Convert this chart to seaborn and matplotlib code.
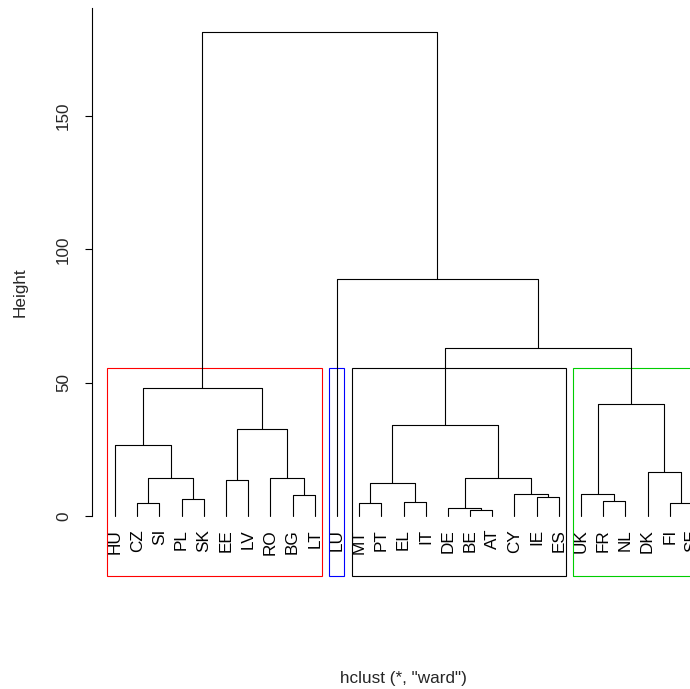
import matplotlib
matplotlib.use("Agg")
import matplotlib.pyplot as plt
from matplotlib.patches import Rectangle
import seaborn as sns
import pandas as pd

# leaf order as drawn
leaves = ["HU", "CZ", "SI", "PL", "SK", "EE", "LV", "RO", "BG", "LT", "LU",
          "MT", "PT", "EL", "IT", "DE", "BE", "AT", "CY", "IE", "ES",
          "UK", "FR", "NL", "DK", "FI", "SE"]

# merges (ward), in order of increasing height
merge_names = ["cz_si", "pl_sk", "czsk", "hu", "ee_lv", "bg_lt", "ro", "balt", "east",
               "mt_pt", "el_it", "south", "be_at", "de", "ie_es", "cy", "core", "mid",
               "fr_nl", "uk", "fi_se", "dk", "north", "west", "lu", "root"]
merge_left = ["CZ", "PL", "cz_si", "HU", "EE", "BG", "RO", "ee_lv", "hu",
              "MT", "EL", "mt_pt", "BE", "DE", "IE", "CY", "de", "south",
              "FR", "UK", "FI", "DK", "uk", "mid", "LU", "east"]
merge_right = ["SI", "SK", "pl_sk", "czsk", "LV", "LT", "bg_lt", "ro", "balt",
               "PT", "IT", "el_it", "AT", "be_at", "ES", "ie_es", "cy", "core",
               "NL", "fr_nl", "SE", "fi_se", "dk", "north", "west", "lu"]
merge_heights = [4.9, 6.4, 14.6, 26.6, 13.5, 8.2, 14.6, 32.6, 48.3,
                 5.1, 5.4, 12.7, 2.4, 3.3, 7.3, 8.5, 14.5, 34.3,
                 5.8, 8.5, 5.1, 16.6, 42.0, 63.0, 89.1, 181.6]

# rect.hclust(k = 4)
k = 4
cluster_roots = ["east", "LU", "mid", "north"]
cluster_colors = ["#FF0000", "#0000FF", "#000000", "#00CD00"]

y_ticks = [0, 50, 100, 150]

# build dendrogram segments
pos = {lab: i + 1 for i, lab in enumerate(leaves)}
hgt = {lab: 0.0 for lab in leaves}
members = {lab: [lab] for lab in leaves}
rows = []
for name, l, r, h in zip(merge_names, merge_left, merge_right, merge_heights):
    pts = [(pos[l], hgt[l]), (pos[l], h), (pos[r], h), (pos[r], hgt[r])]
    for order, (x, y) in enumerate(pts):
        rows.append({"seg": name, "order": order, "x": x, "y": y})
    pos[name] = (pos[l] + pos[r]) / 2
    hgt[name] = h
    members[name] = members[l] + members[r]
seg_df = pd.DataFrame(rows)

sns.set_style("white")
plt.rcParams["font.family"] = ["Liberation Sans", "DejaVu Sans"]
fs = 12.3

fig = plt.figure(figsize=(6.9, 6.89), dpi=100)
ax = fig.add_axes([103.5 / 690, 113 / 689, 600 / 690, 568 / 689])

sns.lineplot(data=seg_df, x="x", y="y", units="seg", estimator=None, sort=False,
             color="black", linewidth=0.8, ax=ax, legend=False)

ylo, yhi = -22.28, 190.4
ax.set_xlim(0.48, 27.52)
ax.set_ylim(ylo, yhi)

# cluster boxes
hs = sorted(merge_heights, reverse=True)
box_top = (hs[k - 2] + hs[k - 1]) / 2
for root, col in zip(cluster_roots, cluster_colors):
    idx = [pos[m] for m in members[root]]
    x0, x1 = min(idx) - 0.34, max(idx) + 0.33
    ax.add_patch(Rectangle((x0, ylo), x1 - x0, box_top - ylo, fill=False,
                           edgecolor=col, linewidth=0.8, clip_on=False))

# leaf labels
for lab in leaves:
    ax.annotate(lab, xy=(pos[lab], 0), xytext=(0, -9), textcoords="offset points",
                rotation=90, ha="center", va="top", fontsize=fs, color="black")

for s in ["top", "right", "bottom"]:
    ax.spines[s].set_visible(False)
ax.spines["left"].set_position(("outward", 8.3))
ax.spines["left"].set_bounds(0, yhi)
ax.spines["left"].set_linewidth(0.8)
ax.spines["left"].set_color("black")

ax.set_xticks([])
ax.set_yticks(y_ticks)
ax.set_yticklabels([str(t) for t in y_ticks])
ax.tick_params(axis="y", length=5, width=0.8, color="black", pad=10,
               labelsize=fs, labelrotation=90, left=True)
for t in ax.get_yticklabels():
    t.set_va("center")
ax.set_xlabel("")
ax.set_ylabel("")

fig.text(20 / 690, (689 - 292) / 689, "Height", rotation=90, ha="center", va="center",
         fontsize=fs)
fig.text(403.5 / 690, (689 - 678) / 689, 'hclust (*, "ward")', ha="center", va="center",
         fontsize=fs)

fig.savefig("out.png", dpi=100)
